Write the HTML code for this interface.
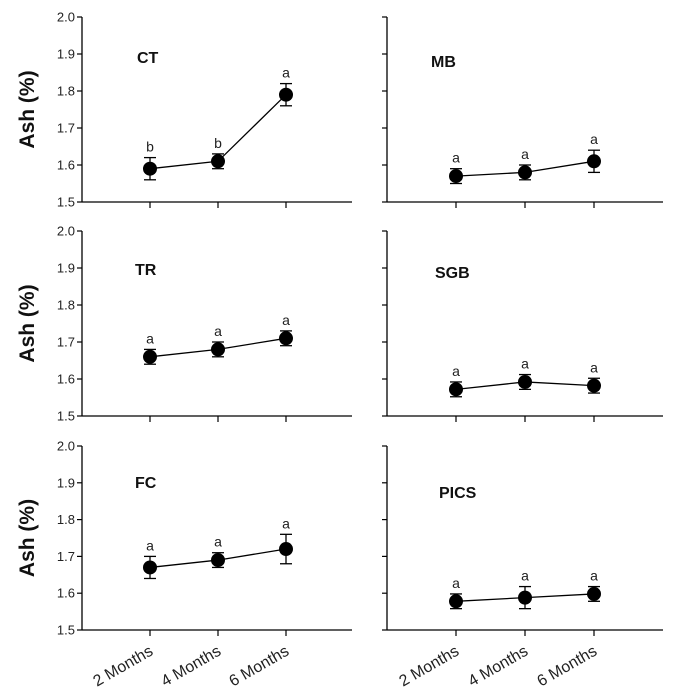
<!DOCTYPE html>
<html><head><meta charset="utf-8"><style>
body{margin:0;background:#fff;}
svg{display:block;font-family:"Liberation Sans",Arial,sans-serif;}
</style></head><body>
<svg id="chart" width="683" height="697"></svg>
<script>
const categories = ["2 Months","4 Months","6 Months"];
const panelNames = ["CT","MB","TR","SGB","FC","PICS"];
const meanCT = [1.59,1.61,1.79];
const errCT = [0.03,0.02,0.03];
const letCT = ["b","b","a"];
const meanMB = [1.57,1.58,1.61];
const errMB = [0.02,0.02,0.03];
const letMB = ["a","a","a"];
const meanTR = [1.66,1.68,1.71];
const errTR = [0.02,0.02,0.02];
const letTR = ["a","a","a"];
const meanSGB = [1.572,1.592,1.582];
const errSGB = [0.02,0.02,0.02];
const letSGB = ["a","a","a"];
const meanFC = [1.67,1.69,1.72];
const errFC = [0.03,0.02,0.04];
const letFC = ["a","a","a"];
const meanPICS = [1.578,1.588,1.598];
const errPICS = [0.02,0.03,0.02];
const letPICS = ["a","a","a"];
const yTicks = [1.5,1.6,1.7,1.8,1.9,2.0];

const means=[meanCT,meanMB,meanTR,meanSGB,meanFC,meanPICS];
const errs=[errCT,errMB,errTR,errSGB,errFC,errPICS];
const lets=[letCT,letMB,letTR,letSGB,letFC,letPICS];
const NS="http://www.w3.org/2000/svg";
const svg=document.getElementById('chart');
function mk(t,a,p){const e=document.createElementNS(NS,t);for(const k in a)e.setAttribute(k,a[k]);(p||svg).appendChild(e);return e;}
const rowTop=[17,231,446], rowBot=[202,416,630];
const colAxis=[82,387], colEnd=[352,663], colTick0=[150,456], tickStep=[68,69];
const labelPos=[[137,63],[431,67],[135,275],[435,278],[135,488],[439,498]];

for(let p=0;p<6;p++){
  const r=Math.floor(p/2), c=p%2;
  const g=mk('g',{});
  
  
  const y=v=>rowBot[r]-(v-1.5)/0.5*(rowBot[r]-rowTop[r]);
  const x=i=>colTick0[c]+i*tickStep[c];
  const ax=colAxis[c];
  let e=mk('line',{x1:ax,y1:rowTop[r],x2:ax,y2:rowBot[r],stroke:'#000','stroke-width':1.3},g);
  
  e=mk('line',{x1:ax,y1:rowBot[r],x2:colEnd[c],y2:rowBot[r],stroke:'#000','stroke-width':1.3},g);
  
  yTicks.forEach(t=>{
    mk('line',{x1:ax-5,y1:y(t),x2:ax,y2:y(t),stroke:'#000','stroke-width':1.2},g);
    if(c===0){const tx=mk('text',{x:ax-7,y:y(t)+4.5,'text-anchor':'end','font-size':13,fill:'#222'},g);tx.textContent=t.toFixed(1);
      }
  });
  categories.forEach((cat,i)=>{
    mk('line',{x1:x(i),y1:rowBot[r],x2:x(i),y2:rowBot[r]+6,stroke:'#000','stroke-width':1.2},g);
    if(r===2){const tx0=x(i)+4, ty0=rowBot[r]+24;
      const tx=mk('text',{x:tx0,y:ty0,'text-anchor':'end','font-size':16,fill:'#222',transform:`rotate(-30 ${tx0} ${ty0})`},g);tx.textContent=cat;
      }
  });
  const m=means[p], er=errs[p];
  const pts=m.map((v,i)=>x(i)+','+y(v)).join(' ');
  e=mk('polyline',{points:pts,fill:'none',stroke:'#000','stroke-width':1.3},g);
  
  m.forEach((v,i)=>{
    const hi=y(v+er[i]), lo=y(v-er[i]);
    mk('line',{x1:x(i),y1:hi,x2:x(i),y2:lo,stroke:'#000','stroke-width':1.3},g);
    mk('line',{x1:x(i)-6,y1:hi,x2:x(i)+6,y2:hi,stroke:'#000','stroke-width':1.3},g);
    mk('line',{x1:x(i)-6,y1:lo,x2:x(i)+6,y2:lo,stroke:'#000','stroke-width':1.3},g);
    const d=mk('circle',{cx:x(i),cy:y(v),r:7,fill:'#000'},g);
    
    const l=mk('text',{x:x(i),y:hi-6,'text-anchor':'middle','font-size':14,fill:'#222'},g);l.textContent=lets[p][i];
    
  });
  const lb=mk('text',{x:labelPos[p][0],y:labelPos[p][1],'font-size':16,'font-weight':'bold',fill:'#111'},g);lb.textContent=panelNames[p];
  
  if(c===0){const yt=mk('text',{x:0,y:0,'text-anchor':'middle','font-size':21,'font-weight':'bold',fill:'#111',transform:`translate(34 ${(rowTop[r]+rowBot[r])/2}) rotate(-90)`},g);yt.textContent='Ash (%)';
    }
}
</script>
</body></html>
